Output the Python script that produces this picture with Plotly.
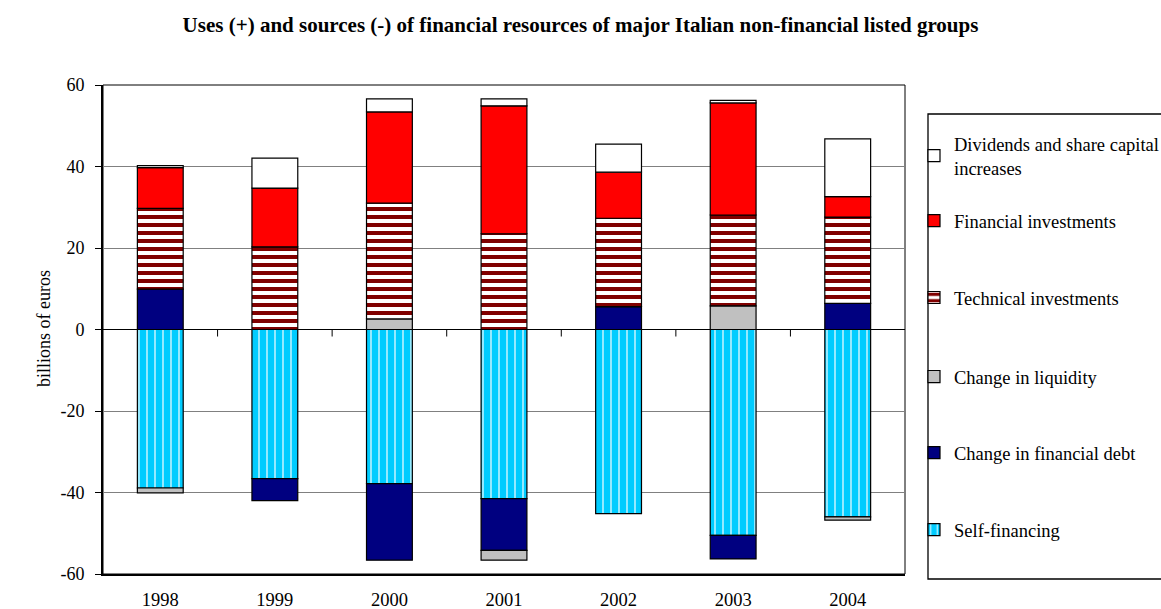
import plotly.graph_objects as go

# Figures in billions of euros
years = ["1998", "1999", "2000", "2001", "2002", "2003", "2004"]
self_financing = [-38.9, -36.6, -37.8, -41.5, -45.2, -50.5, -46.0]
financial_debt = [9.9, -5.4, -18.8, -12.7, 5.6, -5.8, 6.4]
liquidity = [-1.2, 0, 2.6, -2.4, 0, 5.8, -0.8]
technical_inv = [19.8, 20.3, 28.4, 23.5, 21.7, 22.3, 21.2]
financial_inv = [10.0, 14.4, 22.4, 31.4, 11.3, 27.5, 5.0]
dividends = [0.5, 7.35, 3.2, 1.7, 6.9, 0.65, 14.2]

y_ticks = [-60, -40, -20, 0, 20, 40, 60]
y_tick_text = ["-60", "-40", "-20", "0", "20", "40", "60"]

W, H = 1161, 609
L, R, T, B = 103, 905, 85, 574
FONT = "Liberation Serif"


def px_x(px):
    return (px - L) / (R - L)


def px_y(py):
    return (B - py) / (B - T)


outline = dict(color="black", width=1.2)
# (name, values, marker, legend id, top of legend entry in px)
series = [
    ("Self-financing", self_financing,
     dict(color="#00CCFF", line=outline,
          pattern=dict(shape="|", fgcolor="white", bgcolor="#00CCFF",
                       fillmode="overlay", fgopacity=0.85,
                       size=8, solidity=0.17)), "legend", 511),
    ("Change in financial debt", financial_debt,
     dict(color="#000080", line=outline), "legend2", 434),
    ("Change in liquidity", liquidity,
     dict(color="#C0C0C0", line=outline), "legend3", 358),
    ("Technical investments", technical_inv,
     dict(color="white", line=outline,
          pattern=dict(shape="-", fgcolor="#800000", bgcolor="white",
                       fillmode="overlay", fgopacity=1,
                       size=8, solidity=0.5)), "legend4", 279),
    ("Financial investments", financial_inv,
     dict(color="#FF0000", line=outline), "legend5", 202),
    ("Dividends and share capital<br>increases", dividends,
     dict(color="white", line=outline), "legend6", 125),
]

fig = go.Figure()
legends = {}
for name, vals, marker, leg, top in series:
    fig.add_trace(go.Bar(
        x=years, y=vals, name=name, marker=marker, width=0.4, legend=leg,
        showlegend=True,
    ))
    legends[leg] = dict(
        x=px_x(914), xanchor="left", y=px_y(top), yanchor="top",
        font=dict(family=FONT, size=18.5, color="black"),
        bgcolor="rgba(0,0,0,0)", borderwidth=0, visible=True,
    )

shapes = [
    # plot area frame
    dict(type="rect", xref="paper", yref="paper", x0=0, x1=1, y0=0, y1=1,
         line=dict(color="black", width=1), layer="below"),
    # legend box
    dict(type="rect", xref="paper", yref="paper",
         x0=px_x(928), x1=px_x(1163), y0=px_y(579), y1=px_y(114),
         line=dict(color="black", width=1.3), fillcolor="rgba(0,0,0,0)"),
]
# tick marks between categories on the zero line
for k in range(len(years) - 1):
    shapes.append(dict(type="line", xref="x", yref="y", ysizemode="pixel",
                       yanchor=0, x0=k + 0.5, x1=k + 0.5, y0=0, y1=-7,
                       line=dict(color="black", width=1)))

fig.update_layout(
    width=W, height=H,
    margin=dict(l=L, r=W - R, t=T, b=H - B, autoexpand=False),
    paper_bgcolor="white", plot_bgcolor="white",
    barmode="relative", bargap=0.6, showlegend=True,
    font=dict(family=FONT, color="black"),
    title=dict(
        text="<b>Uses (+) and sources (-) of financial resources of major Italian non-financial listed groups</b>",
        font=dict(family=FONT, size=21, color="black"),
        x=0.5, xref="container", xanchor="center",
        y=1 - 25 / H, yref="container", yanchor="middle",
    ),
    xaxis=dict(
        type="category", showgrid=False, showline=True, linecolor="black",
        linewidth=2, ticks="", tickfont=dict(family=FONT, size=18.5),
        ticklabelstandoff=8, range=[-0.5, len(years) - 0.5],
    ),
    yaxis=dict(
        range=[-60, 60], tickvals=y_ticks, ticktext=y_tick_text,
        showgrid=True, gridcolor="#808080",
        gridwidth=1, zeroline=True, zerolinecolor="black", zerolinewidth=1,
        showline=True, linecolor="black", linewidth=2, ticks="outside",
        ticklen=6, tickcolor="black", tickfont=dict(family=FONT, size=18),
        ticklabelstandoff=7,
    ),
    shapes=shapes,
    annotations=[dict(
        text="billions of euros", textangle=-90, showarrow=False,
        xref="paper", yref="paper", x=px_x(44), y=px_y(329),
        xanchor="center", yanchor="middle",
        font=dict(family=FONT, size=18, color="black"),
    )],
    **legends,
)

fig.write_html("out.html")
